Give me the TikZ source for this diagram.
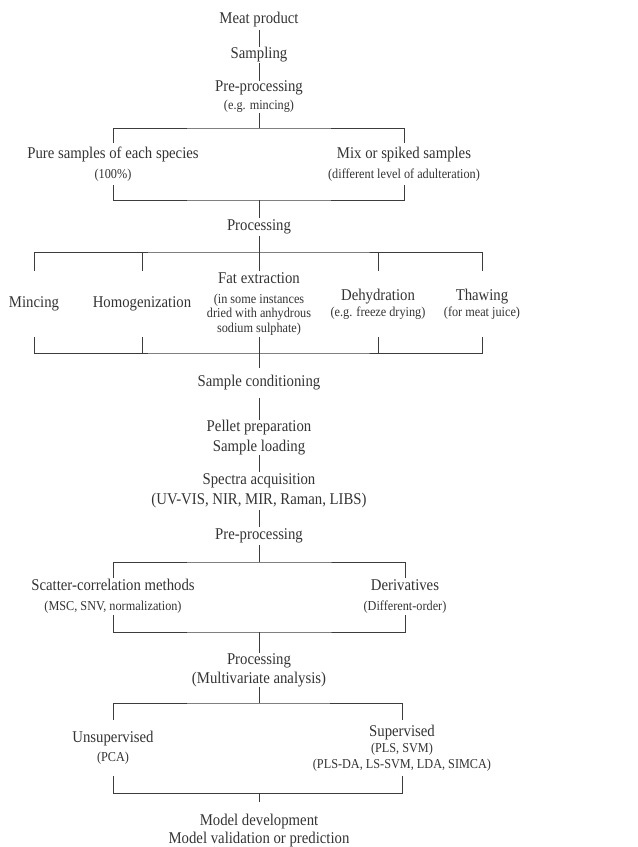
\documentclass[tikz,border=0pt]{standalone}
\usepackage{fontspec}
\setmainfont{Liberation Serif}[FakeStretch=0.9]
\definecolor{flowink}{HTML}{333333}
\definecolor{flowline}{HTML}{3C3C3C}
\newcommand{\subtxt}[1]{{\fontsize{10.2}{11}\selectfont #1}}
\tikzset{
  every picture/.append style={color=flowink},
}

\begin{document}
\begin{tikzpicture}[
    x=0.75pt, y=-0.75pt,
    stage/.style={inner sep=0pt, align=center, font=\fontsize{12.3}{12}\selectfont, text=flowink},
    wire/.style={draw=flowline, line width=0.7pt},
]
\useasboundingbox (0,0) rectangle (638,847);

% sample preparation
\node[stage, minimum height=15pt] (meat) at (259,20) {Meat product};
\node[stage, minimum height=12pt] (sampling) at (259,55) {Sampling};
\node[stage, minimum height=24pt] (pre1) at (259,97) {Pre-processing\\[1.5pt]\subtxt{(e.g. mincing)}};
\node[stage, minimum height=31.5pt] (pure) at (113,164) {Pure samples of each species\\[3pt]\subtxt{(100\%)}};
\node[stage, minimum height=31.5pt] (mix) at (404,164) {Mix or spiked samples\\[3pt]\subtxt{(different level of adulteration)}};
\node[stage, minimum height=13.5pt] (proc1) at (259,227) {Processing};

% processing options
\node[stage, minimum height=49.5pt] (mince) at (34,304) {Mincing};
\node[stage, minimum height=49.5pt] (homog) at (142,304) {Homogenization};
\node[stage, minimum height=49.5pt] (fat) at (259,304) {Fat extraction\\[3pt]\subtxt{(in some instances}\\[-1pt]\subtxt{dried with anhydrous}\\[-1pt]\subtxt{sodium sulphate)}};
\node[stage, minimum height=49.5pt] (dehyd) at (378,304) {Dehydration\\\subtxt{(e.g. freeze drying)}};
\node[stage, minimum height=49.5pt] (thaw) at (482,304) {Thawing\\\subtxt{(for meat juice)}};

% measurement
\node[stage, minimum height=22.5pt] (cond) at (259,383) {Sample conditioning};
\node[stage, minimum height=26.25pt] (pellet) at (259,437.5) {Pellet preparation\\[3pt]Sample loading};
\node[stage, minimum height=28.5pt] (spectra) at (259,491) {Spectra acquisition\\[3pt](UV-VIS, NIR, MIR, Raman, LIBS)};
\node[stage, minimum height=13.5pt] (pre2) at (259,536) {Pre-processing};
\node[stage, minimum height=27.75pt] (scatter) at (113,596.5) {Scatter-correlation methods\\[3pt]\subtxt{(MSC, SNV, normalization)}};
\node[stage, minimum height=27.75pt] (deriv) at (405,596.5) {Derivatives\\[3pt]\subtxt{(Different-order)}};

% chemometrics
\node[stage, minimum height=25.5pt] (proc2) at (259,670) {Processing\\[2.25pt](Multivariate analysis)};
\node[stage, minimum height=42pt] (unsup) at (113,748) {Unsupervised\\[2.25pt]\subtxt{(PCA)}};
\node[stage, minimum height=42pt] (sup) at (402,748) {Supervised\\\subtxt{(PLS, SVM)}\\\subtxt{(PLS-DA, LS-SVM, LDA, SIMCA)}};
\node[stage, minimum height=43.5pt] (model) at (259,831) {Model development\\[1.5pt]Model validation or prediction};

% junctions on the bars
\coordinate (j1) at (259,128);
\coordinate (j2) at (259,200);
\coordinate (j3) at (259,252);
\coordinate (j4) at (259,353);
\coordinate (j5) at (259,562);
\coordinate (j6) at (259,632);
\coordinate (j7) at (259,703);
\coordinate (j8) at (259,793);

\draw[wire] (meat) -- (sampling);
\draw[wire] (sampling) -- (pre1);
\draw[wire] (pre1) -- (j1);
\draw[wire] (pure.north) |- (j1) -| (mix.north);
\draw[wire] (pure.south) |- (j2) -| (mix.south);
\draw[wire] (j2) -- (proc1);

\draw[wire] (proc1) -- (j3);
\draw[wire] (mince.north) |- (j3) -| (thaw.north);
\draw[wire] (mince.south) |- (j4) -| (thaw.south);
\foreach \opt in {homog, fat, dehyd} {
  \draw[wire] (\opt.north) -- (\opt.north |- j3);
  \draw[wire] (\opt.south) -- (\opt.south |- j4);
}
\draw[wire] (j4) -- (cond);

\draw[wire] (cond) -- (pellet);
\draw[wire] (pellet) -- (spectra);
\draw[wire] (spectra) -- (pre2);
\draw[wire] (pre2) -- (j5);
\draw[wire] (scatter.north) |- (j5) -| (deriv.north);
\draw[wire] (scatter.south) |- (j6) -| (deriv.south);
\draw[wire] (j6) -- (proc2);

\draw[wire] (proc2) -- (j7);
\draw[wire] (unsup.north) |- (j7) -| (sup.north);
\draw[wire] (unsup.south) |- (j8) -| (sup.south);
\draw[wire] (j8) -- (model);

\end{tikzpicture}
\end{document}
